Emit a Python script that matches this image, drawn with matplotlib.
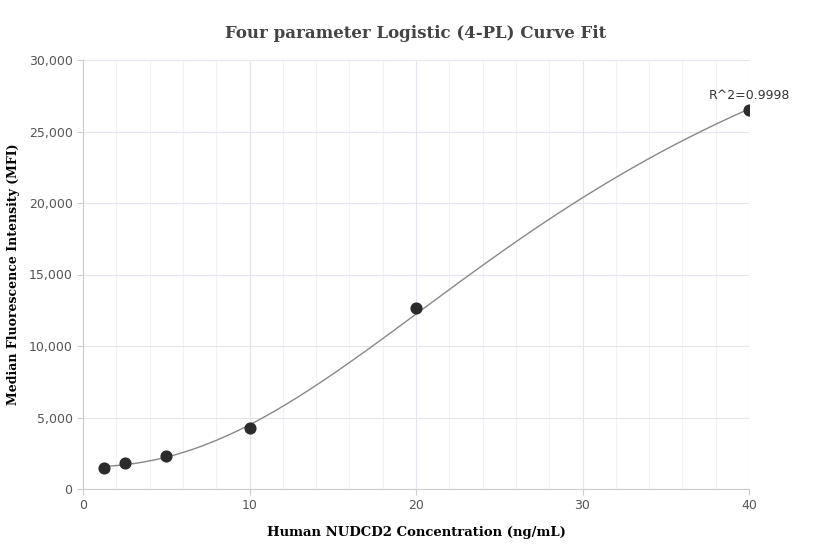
import matplotlib
matplotlib.use("Agg")
import matplotlib.pyplot as plt
import numpy as np

conc = [1.25, 2.5, 5, 10, 20, 40]
mfi = [1500, 1800, 2300, 4250, 12650, 26500]
r2_label = "R^2=0.9998"

x = np.array(conc, float)
y = np.array(mfi, float)

# crude weighted 4PL fit: grid over b, c; weighted least squares for a, d
w = 1.0 / y
best = None
for b in np.linspace(0.5, 5, 91):
    for c in np.logspace(0, 5, 401):
        g = 1.0 / (1.0 + (x / c) ** b)
        A = np.column_stack([g, 1 - g])
        coef, *_ = np.linalg.lstsq(A * w[:, None], y * w, rcond=None)
        err = np.sum(((A @ coef - y) * w) ** 2)
        if best is None or err < best[0]:
            best = (err, b, c, coef)
_, b, c, (a, d) = best
xs = np.linspace(1.25, 40, 400)
ys = d + (a - d) / (1 + (xs / c) ** b)

fig = plt.figure(figsize=(8.32, 5.6), dpi=100)
ax = fig.add_axes([83 / 832, 1 - 489 / 560, 666 / 832, 429 / 560])
ax.plot(xs, ys, color="#888888", lw=1)
ax.scatter(x, y, s=60, color="#2b2b2b", zorder=3)
ax.annotate(r2_label, (40, 26500), xytext=(0, 6), textcoords="offset points",
            ha="center", va="bottom", fontsize=9, color="#333333")

ax.set_xlim(0, 40)
ax.set_ylim(0, 30000)
ax.set_xticks(range(0, 41, 10))
ax.set_xticks(range(0, 41, 2), minor=True)
ax.set_yticks(range(0, 30001, 5000))
ax.set_yticklabels([f"{v:,}" for v in range(0, 30001, 5000)])
ax.grid(which="major", color="#e3e6ee", lw=0.8)
ax.grid(which="minor", axis="x", color="#f0f2f6", lw=0.8)
ax.set_axisbelow(True)
for s in ["top", "right"]:
    ax.spines[s].set_visible(False)
for s in ["left", "bottom"]:
    ax.spines[s].set_color("#cccccc")
ax.tick_params(which="both", colors="#cccccc", labelcolor="#555555", labelsize=9, length=4)
ax.tick_params(which="minor", length=0)

ax.set_title("Four parameter Logistic (4-PL) Curve Fit", fontfamily="DejaVu Serif",
             fontweight="bold", fontsize=12, color="#444444", pad=16)
ax.set_xlabel("Human NUDCD2 Concentration (ng/mL)", fontfamily="DejaVu Serif",
              fontweight="bold", fontsize=9.5, labelpad=10)
ax.set_ylabel("Median Fluorescence Intensity (MFI)", fontfamily="DejaVu Serif",
              fontweight="bold", fontsize=9, labelpad=6)
fig.savefig("out.png", dpi=100)
